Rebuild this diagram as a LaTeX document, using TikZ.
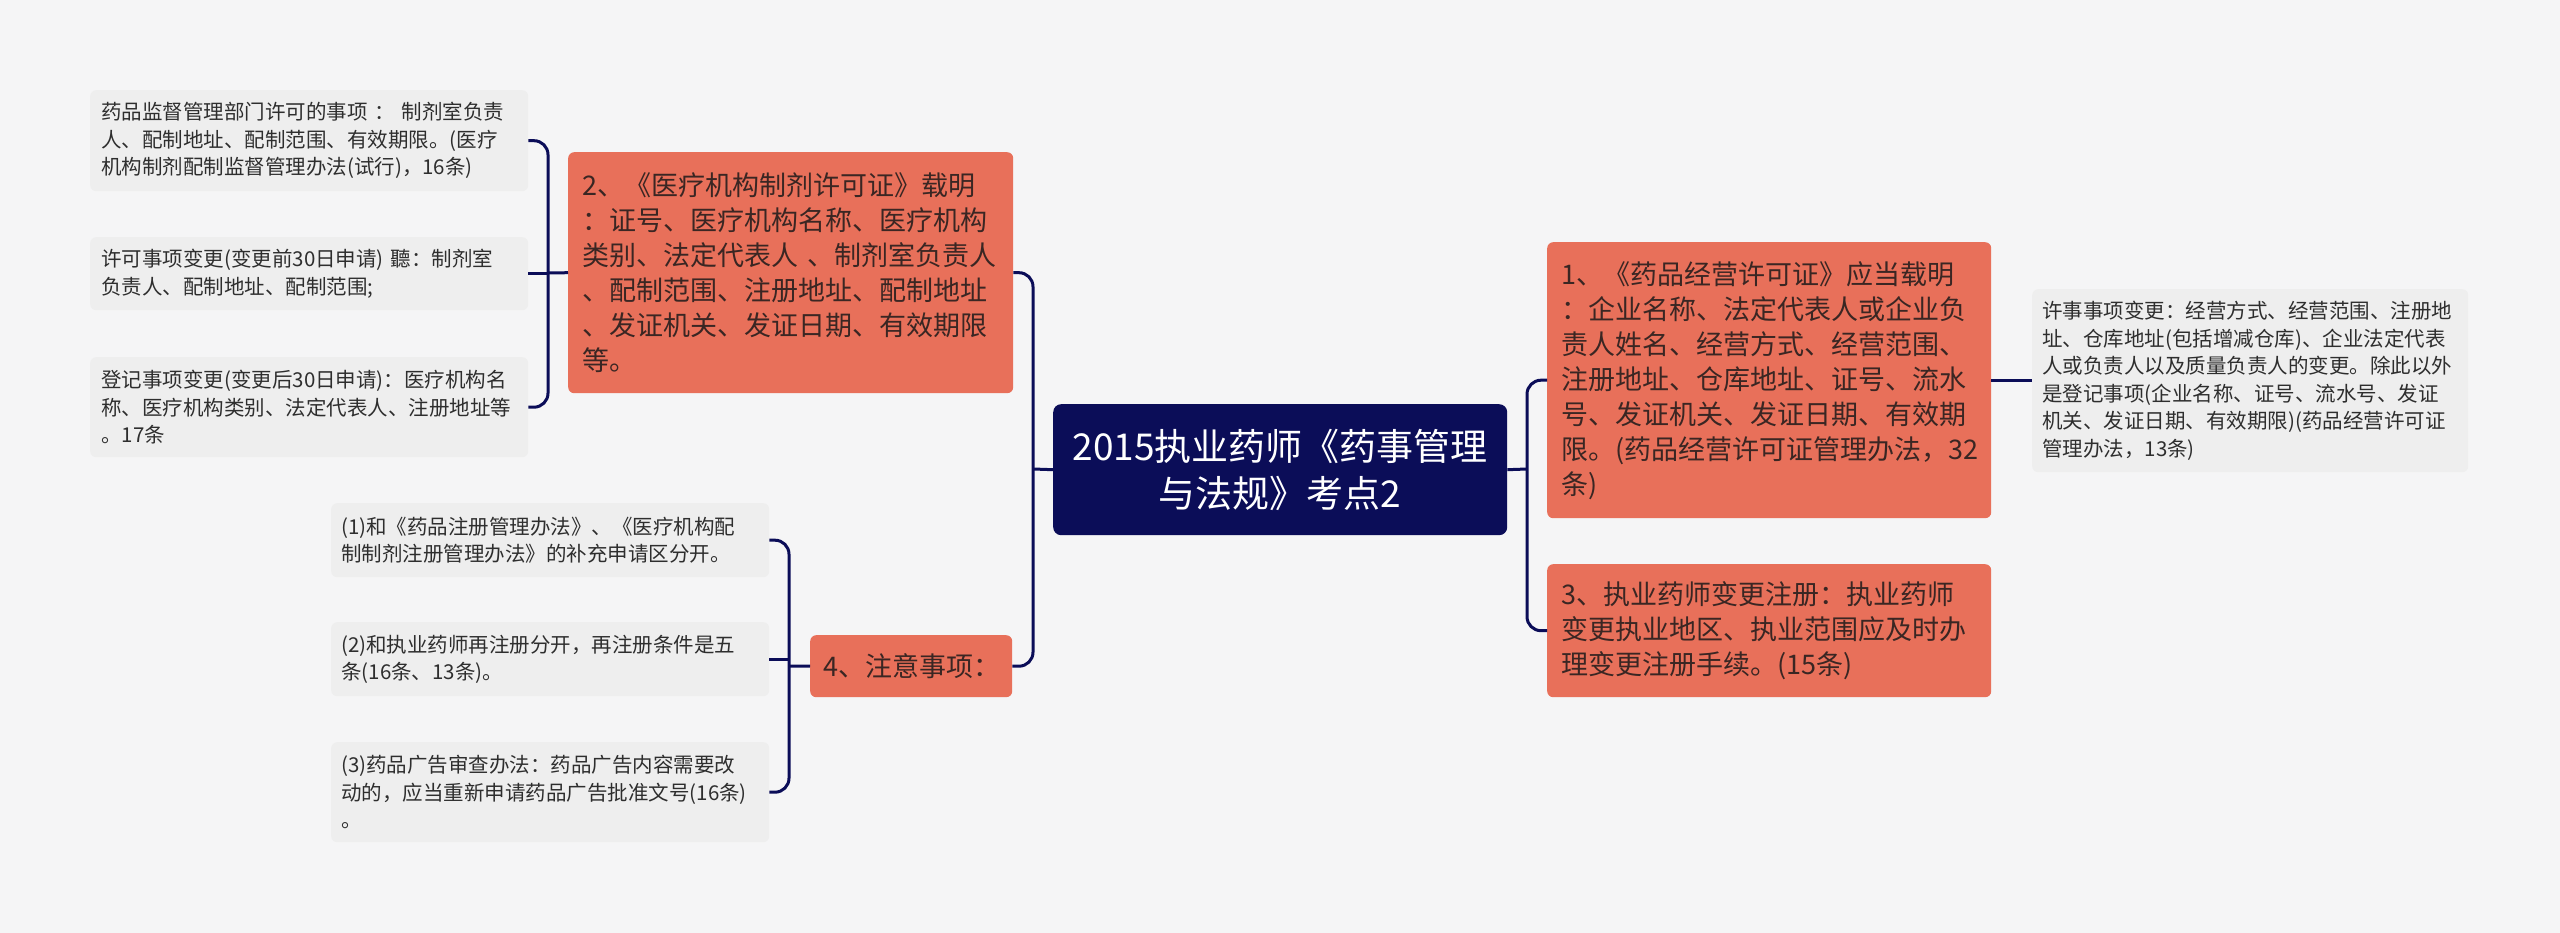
\documentclass[tikz,border=0pt]{standalone}
\usepackage{fontspec}
\setmainfont{Noto Sans CJK SC}
\definecolor{navy}{HTML}{0B0D58}
\definecolor{coral}{HTML}{E8705A}
\definecolor{leafgray}{HTML}{EEEEEE}
\definecolor{bgc}{HTML}{F5F5F6}
\definecolor{inkc}{HTML}{3A2623}
\definecolor{leafink}{HTML}{2E2E2E}
\tikzset{
  basebox/.style={rounded corners=6pt, inner ysep=0pt, anchor=north west, align=left},
  leafbox/.style={basebox, fill=leafgray, text=leafink, inner xsep=10pt, font=\fontsize{20.5}{27.5}\selectfont},
  coralbox/.style={basebox, fill=coral, text=inkc, inner xsep=14pt, font=\fontsize{27}{35}\selectfont},
  rootbox/.style={basebox, rounded corners=8pt, fill=navy, text=white, align=center, inner xsep=10pt, font=\fontsize{37}{47}\selectfont},
  conn/.style={draw=navy, line width=3pt, rounded corners=14pt}
}
\begin{document}
\begin{tikzpicture}[x=1pt,y=-1pt]
\fill[bgc] (0,0) rectangle (2560,933);
\useasboundingbox (0,0) rectangle (2560,933);

% root
\node[rootbox, minimum height=131pt, text width=434pt] (root) at (1053,404)
  {2015执业药师《药事管理\\与法规》考点2};

% left branch: node 2
\node[coralbox, minimum height=241pt, text width=417pt] (n2) at (568,152)
  {2、《医疗机构制剂许可证》载明\\：证号、医疗机构名称、医疗机构\\类别、法定代表人~、制剂室负责人\\、配制范围、注册地址、配制地址\\、发证机关、发证日期、有效期限\\等。};
\node[leafbox, inner xsep=11pt, minimum height=101pt, text width=416pt] (a1) at (90,90)
  {药品监督管理部门许可的事项~：~制剂室负责\\人、配制地址、配制范围、有效期限。(医疗\\机构制剂配制监督管理办法(试行)，16条)};
\node[leafbox, inner xsep=11pt, minimum height=73pt, text width=416pt] (a2) at (90,237)
  {许可事项变更(变更前30日申请)~聽：制剂室\\负责人、配制地址、配制范围;};
\node[leafbox, inner xsep=11pt, minimum height=100pt, text width=416pt] (a3) at (90,357)
  {登记事项变更(变更后30日申请)：医疗机构名\\称、医疗机构类别、法定代表人、注册地址等\\。17条};

% left branch: node 4
\node[coralbox, inner xsep=13pt, minimum height=62pt, text width=176pt] (n4) at (810,635)
  {4、注意事项：};
\node[leafbox, minimum height=74pt, text width=418pt] (b1) at (331,503)
  {(1)和《药品注册管理办法》、《医疗机构配\\制制剂注册管理办法》的补充申请区分开。};
\node[leafbox, minimum height=74pt, text width=418pt] (b2) at (331,622)
  {(2)和执业药师再注册分开，再注册条件是五\\条(16条、13条)。};
\node[leafbox, minimum height=100pt, text width=418pt] (b3) at (331,742)
  {(3)药品广告审查办法：药品广告内容需要改\\动的，应当重新申请药品广告批准文号(16条)\\。};

% right branch
\node[coralbox, minimum height=276pt, text width=416pt] (n1) at (1547,242)
  {1、《药品经营许可证》应当载明\\：企业名称、法定代表人或企业负\\责人姓名、经营方式、经营范围、\\注册地址、仓库地址、证号、流水\\号、发证机关、发证日期、有效期\\限。(药品经营许可证管理办法，32\\条)};
\node[coralbox, minimum height=133pt, text width=416pt] (n3) at (1547,564)
  {3、执业药师变更注册：执业药师\\变更执业地区、执业范围应及时办\\理变更注册手续。(15条)};
\node[leafbox, minimum height=183pt, text width=416pt] (r1) at (2032,289)
  {许事事项变更：经营方式、经营范围、注册地\\址、仓库地址(包括增减仓库)、企业法定代表\\人或负责人以及质量负责人的变更。除此以外\\是登记事项(企业名称、证号、流水号、发证\\机关、发证日期、有效期限)(药品经营许可证\\管理办法，13条)};

% spine coordinates
\coordinate (sL) at (1033,469);
\coordinate (sR) at (1527,469);
\coordinate (s2) at (548,273);
\coordinate (s4) at (789,666);

% connectors
\draw[conn] (root.west) -- (sL);
\draw[conn] (n2.east) -| (sL) |- (n4.east);
\draw[conn] (root.east) -- (sR);
\draw[conn] (n1.west) -| (sR) |- (n3.west);
\draw[conn] (n1.east) -- (r1.west |- n1.east);

\draw[conn] (n2.west) -- (s2);
\draw[conn] (a1.east) -| (s2) |- (a3.east);
\draw[conn] (a2.east) -- (a2.east -| s2);

\draw[conn] (n4.west) -- (s4);
\draw[conn] (b1.east) -| (s4) |- (b3.east);
\draw[conn] (b2.east) -- (b2.east -| s4);
\end{tikzpicture}
\end{document}
